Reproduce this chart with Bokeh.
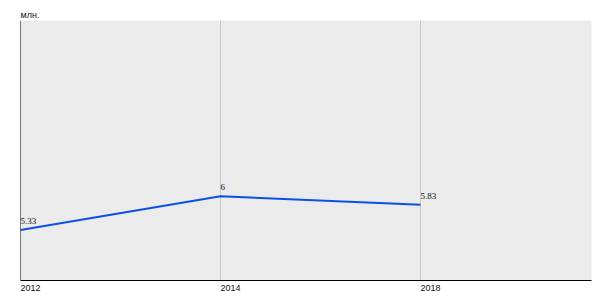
from bokeh.plotting import figure
from bokeh.models import ColumnDataSource, Range1d, FixedTicker, LabelSet, Span, LinearAxis
from bokeh.embed import file_html
from bokeh.resources import INLINE

years = ["2012", "2014", "2018"]
values = [5.33, 6, 5.83]
unit_label = "млн."

X0, X1 = 0, 2.855
Y0, Y1 = 4.32, 9.51
SHIFT = 0.05  # half a year-label width, so labels start at their tick
xs = list(range(len(years)))
labels = [f"{v:g}" for v in values]
src = ColumnDataSource(dict(x=xs, y=values, label=labels))

FONT = "Liberation Sans"

p = figure(width=600, height=300, output_backend="svg", toolbar_location=None,
           x_range=Range1d(X0, X1), y_range=Range1d(Y0, Y1),
           x_axis_location=None, y_axis_location=None,
           min_border_left=20, min_border_right=9, min_border_top=20, min_border_bottom=20)
p.background_fill_color = "#ebebeb"
p.border_fill_color = "white"
p.outline_line_color = None

p.title.text = unit_label
p.title.text_font = FONT
p.title.text_font_size = "9px"
p.title.text_font_style = "normal"
p.title.text_color = "#111111"
p.title.align = "left"
p.title.standoff = 2

p.ygrid.visible = False

p.extra_x_ranges = {"lbl": Range1d(X0 - SHIFT, X1 - SHIFT)}
ax = LinearAxis(x_range_name="lbl", ticker=FixedTicker(ticks=xs),
                major_label_overrides={i: y for i, y in zip(xs, years)})
ax.major_tick_line_color = None
ax.minor_tick_line_color = None
ax.major_tick_out = 0
ax.major_tick_in = 0
ax.axis_line_color = "black"
ax.axis_line_width = 1
ax.major_label_text_font = FONT
ax.major_label_text_font_size = "9px"
ax.major_label_text_color = "#111111"
ax.major_label_standoff = 4
p.add_layout(ax, "below")

p.xgrid.ticker = FixedTicker(ticks=xs[1:])
p.xgrid.grid_line_color = "#c8c8c8"
p.xgrid.grid_line_width = 1

p.add_layout(Span(location=X0, dimension="height", line_color="black", line_width=1))

p.line("x", "y", source=src, line_color="#0a50e6", line_width=2)
p.add_layout(LabelSet(x="x", y="y", text="label", source=src, y_offset=6,
                      text_align="left", text_baseline="bottom",
                      text_font=FONT, text_font_size="9px", text_color="#111111"))

open("out.html", "w").write(file_html(p, INLINE))
